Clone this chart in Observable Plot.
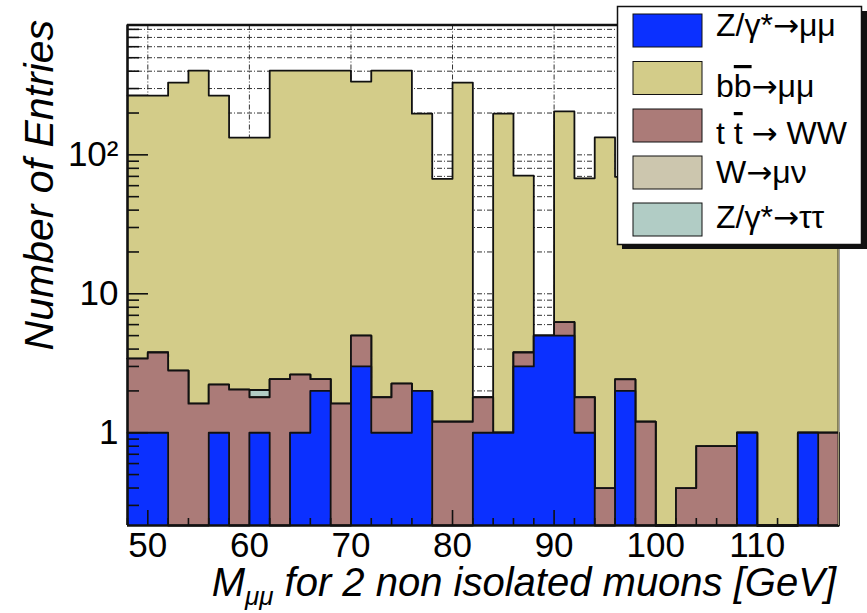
<!DOCTYPE html>
<html><head><meta charset="utf-8">
<script src="https://cdn.jsdelivr.net/npm/d3@7"></script>
<script src="https://cdn.jsdelivr.net/npm/@observablehq/plot@0.6"></script>
<style>body{margin:0;background:#fff} #chart svg{display:block}</style>
</head><body><div id="chart"></div>
<script>
// ---- data (2 GeV bins, left edges) ----
const binLeft = [48,50,52,54,56,58,60,62,64,66,68,70,72,74,76,78,80,82,84,86,88,90,92,94,96,98,100,102,104,106,108,110,112,114,116];
const zmumu   = [1,1,0,0,1,0,1,0,1,2,0,3,1,1,2,0,0,1,1,3,5,5,1,0,2,0,0,0,0,0,1,0,0,1,0];
const ttww    = [2.42,2.78,2.8,1.62,1.22,2.04,0.8,2.43,1.62,0.43,1.62,2.0,0.8,1.26,0,1.2,1.2,0.8,0,0.78,0,1.25,0.8,0.4,0.42,1.2,0,0.4,0.8,0.8,0,0,0,0,1.0];
const wmunu   = [0,0,0,0,0,0,0,0,0,0,0,0,0,0,0,0,0,0,0,0,0,0,0,0,0,0,0,0,0,0,0,0,0,0,0];
const ztautau = [0,0,0,0,0,0,0.23,0,0,0,0,0,0,0,0,0,0,0,0,0,0,0,0,0,0,0,0,0,0,0,0,0,0,0,0];
const bbmumu  = [264,263,328,402,265,131,131,402,401,402,402,332,402,402,196,66,330,0,197,67,0,199,66,133,67,150,120,180,90,140,110,80,120,60,90];
const xMajor = [50,60,70,80,90,100,110];
const xMinor = [48,52,54,56,58,62,64,66,68,72,74,76,78,82,84,86,88,92,94,96,98,102,104,106,108,112,114,116];
const yMajor = [1,10,100];
const yMinor = [0.3,0.4,0.5,0.6,0.7,0.8,0.9,2,3,4,5,6,7,8,9,20,30,40,50,60,70,80,90,200,300,400,500,600,700,800];
const yLabelText = ["1","10","10²"];
// legend labels: [before, overlined, after, arrow, decay products]
const legendParts = [
  ["Z/γ*", "", "", "→", "μμ"],
  ["b", "b", "", "→", "μμ"],
  ["t ", "t", " ", "→", " WW"],
  ["W", "", "", "→", "μν"],
  ["Z/γ*", "", "", "→", "ττ"]
];

const ymin = 0.215, ymax = 860, binWidth = 2;
const W = 867, H = 613, mL = 127, mR = 29, mT = 24.5, mB = 88;
const plotW = W - mL - mR, plotH = H - mT - mB;

const layers = [
  {values: zmumu,   color: "#0b30ff"},
  {values: ttww,    color: "#ab7b78"},
  {values: wmunu,   color: "#ccc6ae"},
  {values: ztautau, color: "#b1ccc5"},
  {values: bbmumu,  color: "#d3cc89"}
];
let run = binLeft.map(() => 0);
layers.forEach(l => { run = run.map((r, i) => r + l.values[i]); l.cum = run.slice(); });
const lastEdge = binLeft[binLeft.length - 1] + binWidth;
function areaPts(cum) {
  const p = binLeft.map((x, i) => ({x, y: Math.max(cum[i], ymin)}));
  p.push({x: lastEdge, y: Math.max(cum[cum.length - 1], ymin)});
  return p;
}
function outlinePts(cum) { const p = areaPts(cum); p.push({x: lastEdge, y: ymin}); return p; }

const gridStyle = {stroke: "#333", strokeWidth: 1, strokeDasharray: "5,2,1,2"};
const marks = [
  Plot.ruleY([...yMinor, ...yMajor], gridStyle),
  Plot.ruleX(xMajor, gridStyle)
];
for (const l of layers.slice().reverse()) {
  marks.push(Plot.areaY(areaPts(l.cum), {x: "x", y1: ymin, y2: "y", curve: "step-after", fill: l.color}));
  marks.push(Plot.line(outlinePts(l.cum), {x: "x", y: "y", curve: "step-after", stroke: "#111", strokeWidth: 1.8}));
}
marks.push(
  Plot.tickY(yMajor, {y: d => d, stroke: "#111", strokeWidth: 1.6, insetRight: plotW - 21}),
  Plot.tickY(yMinor, {y: d => d, stroke: "#111", strokeWidth: 1.6, insetRight: plotW - 12}),
  Plot.tickX(xMajor, {x: d => d, stroke: "#111", strokeWidth: 1.6, insetTop: plotH - 15}),
  Plot.tickX(xMinor, {x: d => d, stroke: "#111", strokeWidth: 1.6, insetTop: plotH - 7}),
  Plot.ruleX([lastEdge], {stroke: "#9a9470", strokeWidth: 1}),
  Plot.ruleX([binLeft[0]], {stroke: "#111", strokeWidth: 2.6}),
  Plot.ruleY([ymax], {stroke: "#111", strokeWidth: 2.6}),
  Plot.ruleY([ymin], {stroke: "#111", strokeWidth: 2.6}),
  Plot.text(yMajor, {y: d => d, text: (d, i) => yLabelText[i], frameAnchor: "left", textAnchor: "end", dx: -9, fontSize: 35}),
  Plot.text(xMajor, {x: d => d, text: d => String(d), frameAnchor: "bottom", dy: 31, fontSize: 35})
);

const chart = Plot.plot({
  width: W, height: H,
  marginLeft: mL, marginRight: mR, marginTop: mT, marginBottom: mB,
  style: {fontFamily: "'Liberation Sans', Arial, sans-serif", background: "#fff", overflow: "visible"},
  x: {type: "linear", domain: [binLeft[0], lastEdge], axis: null},
  y: {type: "log", domain: [ymin, ymax], axis: null},
  marks
});
document.getElementById("chart").appendChild(chart);

const svg = d3.select(chart);
const ff = "'Liberation Sans', Arial, sans-serif";
// axis titles
svg.append("text").attr("transform", "translate(53,20) rotate(-90)")
  .attr("text-anchor", "end").attr("font-size", 41).attr("font-style", "italic")
  .attr("font-family", ff).attr("fill", "#000").text("Number of Entries");
const xt = svg.append("text").attr("x", 836).attr("y", 596).attr("text-anchor", "end")
  .attr("font-size", 40).attr("font-style", "italic").attr("font-family", ff).attr("fill", "#000");
xt.append("tspan").text("M");
xt.append("tspan").attr("font-size", 26).attr("dy", 9).text("μμ");
xt.append("tspan").attr("dy", -9).text(" for 2 non isolated muons [GeV]");

// legend
const lg = svg.append("g").attr("font-family", ff).attr("text-anchor", "start");
lg.append("rect").attr("x", 622).attr("y", 11).attr("width", 245).attr("height", 238).attr("fill", "#111");
lg.append("rect").attr("x", 617.5).attr("y", 6.5).attr("width", 244).attr("height", 238).attr("fill", "#fff").attr("stroke", "#111").attr("stroke-width", 1.5);
const rowsY = [14, 61.5, 109, 156, 203];
const baseY = [36, 97, 144, 183, 228];
const legColors = [layers[0].color, layers[4].color, layers[1].color, layers[2].color, layers[3].color];
legendParts.forEach((p, i) => {
  lg.append("rect").attr("x", 633).attr("y", rowsY[i]).attr("width", 69).attr("height", 33)
    .attr("fill", legColors[i]).attr("stroke", "#111").attr("stroke-width", 1);
  const t = lg.append("text").attr("x", 716).attr("y", baseY[i]).attr("font-size", 32).attr("fill", "#000").attr("text-anchor", "start");
  t.append("tspan").text(p[0]);
  if (p[1]) t.append("tspan").style("text-decoration", "overline").text(p[1]);
  if (p[2]) t.append("tspan").text(p[2]);
  t.append("tspan").attr("font-family", "'DejaVu Sans', sans-serif").attr("font-size", 31).text(p[3]);
  t.append("tspan").text(p[4]);
});
</script></body></html>
